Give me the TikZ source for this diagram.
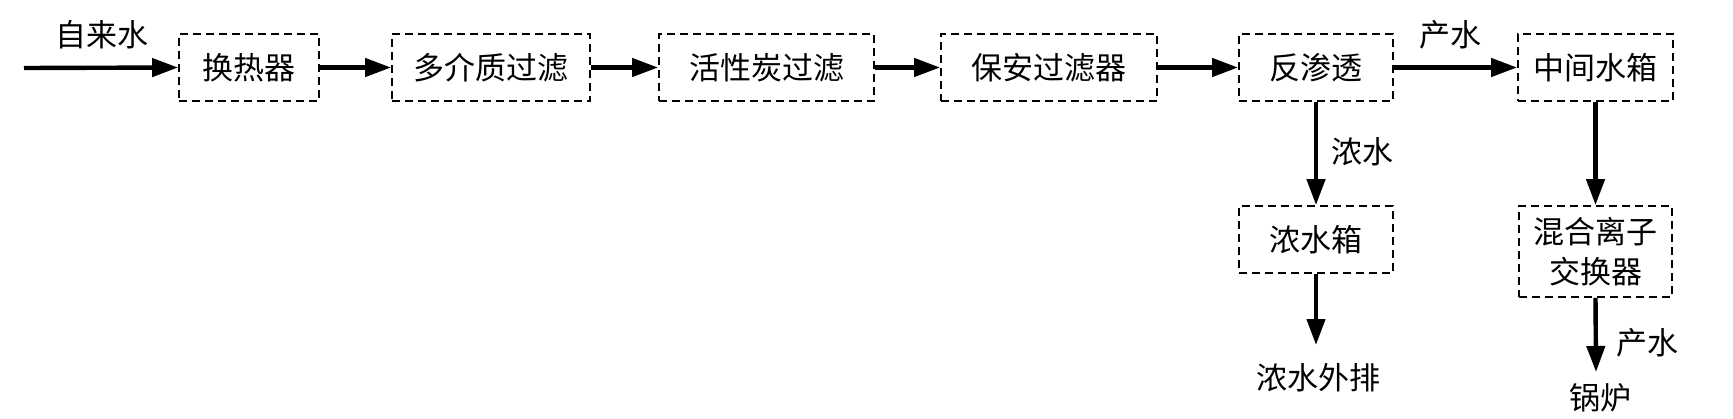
\documentclass[tikz,border=0pt]{standalone}
\usepackage{fontspec}
\setmainfont{Noto Sans CJK SC}
\usetikzlibrary{arrows.meta}
\begin{document}
\begin{tikzpicture}[x=1pt,y=-1pt,
  box/.style={draw, line width=1.8pt, dash pattern=on 8pt off 5pt, inner sep=0pt,
    minimum height=67pt, font=\fontsize{31}{40}\selectfont, align=center},
  lbl/.style={inner sep=0pt, font=\fontsize{31}{40}\selectfont},
  flow/.style={line width=4.4pt, -{Triangle[length=26pt,width=18pt]}}]
\useasboundingbox (0,0) rectangle (1733,418);
% top row boxes
\node[box, minimum width=140pt] (hx) at (249,67.5) {换热器};
\node[box, minimum width=198pt] (mm) at (491,67.5) {多介质过滤};
\node[box, minimum width=215pt] (ac) at (766.5,67.5) {活性炭过滤};
\node[box, minimum width=216pt] (sf) at (1049,67.5) {保安过滤器};
\node[box, minimum width=154pt] (ro) at (1316,67.5) {反渗透};
\node[box, minimum width=155pt] (mt) at (1595.5,67.5) {中间水箱};
% lower boxes
\node[box, minimum width=154pt] (cs) at (1316,239.5) {浓水箱};
\node[box, minimum width=153pt, minimum height=91pt] (mx) at (1595.5,251.5) {混合离子\\交换器};
% end texts
\node[lbl] (out) at (1318,378) {浓水外排};
\node[lbl] (boiler) at (1600,398) {锅炉};
\coordinate (in) at (24,68);
\coordinate (outtip) at (1316,345);
\coordinate (boilertip) at (1596,372);
% labels
\node[lbl] (l1) at (102,35) {自来水};
\node[lbl] (l2) at (1450,35) {产水};
\node[lbl] (l3) at (1362,152) {浓水};
\node[lbl] (l4) at (1647,343) {产水};
% connectors
\draw[flow] (in) -- (hx.west);
\draw[flow] (hx.east) -- (mm.west);
\draw[flow] (mm.east) -- (ac.west);
\draw[flow] (ac.east) -- (sf.west);
\draw[flow] (sf.east) -- (ro.west);
\draw[flow] (ro.east) -- (mt.west);
\draw[flow] (ro.south) -- (cs.north);
\draw[flow] (cs.south) -- (outtip);
\draw[flow] (mt.south) -- (mx.north);
\draw[flow] (mx.south) -- (boilertip);
\end{tikzpicture}
\end{document}
